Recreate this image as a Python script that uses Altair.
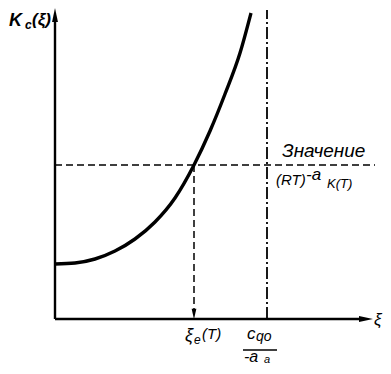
import altair as alt
import pandas as pd

# ---- data (abstract units: xi horizontally, K vertically) ----
curve_xi = [0, 2, 4, 6, 8, 10, 12, 13.9, 15.5, 17, 18.5, 19.6]
curve_k = [5.5, 5.6, 6.0, 6.8, 8.0, 9.7, 12.1, 15.4, 18.8, 22.5, 26.6, 30.6]

xi_e = 13.9          # equilibrium xi_e(T)
k_level = 15.4       # value (RT)^-a K(T)
xi_limit = 21.2      # c_q0 / -a_q asymptote
axis_x_end = 30.8
axis_y_end = 30.0

FONT = "Liberation Sans"

xs = alt.Scale(domain=[-4.7, 32.8], nice=False, zero=False)
ys = alt.Scale(domain=[-4.7, 31.1], nice=False, zero=False)

def X(f="x"):
    return alt.X(f"{f}:Q", scale=xs, axis=None)

def Y(f="y"):
    return alt.Y(f"{f}:Q", scale=ys, axis=None)

curve = alt.Chart(pd.DataFrame({"x": curve_xi, "y": curve_k})).mark_line(
    color="black", strokeWidth=3.4, interpolate="monotone"
).encode(x=X(), y=Y())

axes_df = pd.DataFrame({
    "x": [0, 0], "y": [0, 0],
    "x2": [0, axis_x_end], "y2": [axis_y_end, 0],
})
axes = alt.Chart(axes_df).mark_rule(color="black", strokeWidth=2.4).encode(
    x=X(), y=Y(), x2="x2:Q", y2="y2:Q"
)

arrow_up = alt.Chart(pd.DataFrame({"x": [0], "y": [30.4]})).mark_point(
    shape="M0,-1L0.42,1L-0.42,1Z", filled=True, color="black", size=196, opacity=1
).encode(x=X(), y=Y())
arrow_right = alt.Chart(pd.DataFrame({"x": [31.1], "y": [0]})).mark_point(
    shape="M1,0L-1,0.42L-1,-0.42Z", filled=True, color="black", size=196, opacity=1
).encode(x=X(), y=Y())

hdash = alt.Chart(pd.DataFrame({"x": [0], "x2": [32.0], "y": [k_level]})).mark_rule(
    color="black", strokeWidth=1.5, strokeDash=[7, 4]
).encode(x=X(), x2="x2:Q", y=Y())

vdash = alt.Chart(pd.DataFrame({"x": [xi_e], "y": [k_level], "y2": [0.6]})).mark_rule(
    color="black", strokeWidth=1.5, strokeDash=[7, 4]
).encode(x=X(), y=Y(), y2="y2:Q")

arrow_down = alt.Chart(pd.DataFrame({"x": [xi_e], "y": [0.5]})).mark_point(
    shape="M0,1L0.45,-1L-0.45,-1Z", filled=True, color="black", size=110, opacity=1
).encode(x=X(), y=Y())

dashdot = alt.Chart(pd.DataFrame({"x": [xi_limit], "y": [0], "y2": [30.9]})).mark_rule(
    color="black", strokeWidth=1.8, strokeDash=[12, 3, 2, 3]
).encode(x=X(), y=Y(), y2="y2:Q")

frac_bar = alt.Chart(pd.DataFrame({"x": [18.8], "x2": [22.2], "y": [-3.1]})).mark_rule(
    color="black", strokeWidth=1.4
).encode(x=X(), x2="x2:Q", y=Y())

# bold axis title pieces
title_text = ["K", "c", "(ξ)"]
title_x = [-4.6, -3.0, -2.3]
title_y = [29.3, 29.0, 29.4]
title_size = [18, 12, 17]

# other text pieces
label_text = ["Значение", "(RT)", "-a", "K(T)", "ξ",
              "ξ", "e", "(T)", "c", "qo", "-a", "a"]
label_x = [22.7, 22.1, 25.1, 27.2, 31.9,
           13.0, 13.9, 14.7, 19.2, 20.1, 18.9, 20.9]
label_y = [16.2, 13.4, 13.9, 13.1, -0.6,
           -2.2, -2.5, -2.0, -2.0, -2.2, -4.25, -4.35]
label_size = [19, 15, 17, 13, 17,
              18, 12, 15, 17, 14, 16, 11]

titles = alt.Chart(pd.DataFrame({
    "x": title_x, "y": title_y, "t": title_text, "s": title_size
})).mark_text(
    align="left", baseline="alphabetic", font=FONT, fontStyle="italic",
    fontWeight="bold", color="black"
).encode(x=X(), y=Y(), text="t:N", size=alt.Size("s:Q", scale=None))

texts = alt.Chart(pd.DataFrame({
    "x": label_x, "y": label_y, "t": label_text, "s": label_size
})).mark_text(
    align="left", baseline="alphabetic", font=FONT, fontStyle="italic", color="black"
).encode(x=X(), y=Y(), text="t:N", size=alt.Size("s:Q", scale=None))

chart = alt.layer(
    hdash, vdash, dashdot, curve, axes, arrow_up, arrow_right, arrow_down,
    frac_bar, titles, texts
).properties(
    width=375, height=358, padding=0, autosize=alt.AutoSizeParams(type="none")
).configure_view(stroke=None)

chart.save("out.html", embed_options={"renderer": "svg", "actions": False})
